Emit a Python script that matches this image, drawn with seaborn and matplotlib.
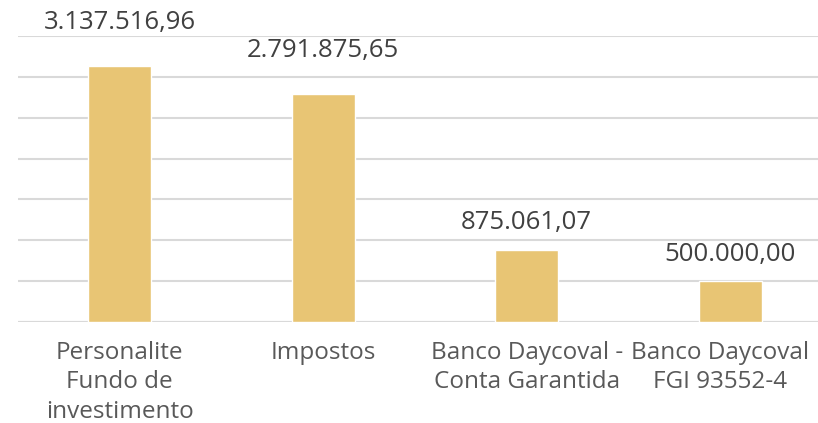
import matplotlib
matplotlib.use("Agg")
import matplotlib.pyplot as plt
import matplotlib.transforms as mtransforms
import pandas as pd
import seaborn as sns

categories = ["Personalite\nFundo de\ninvestimento", "Impostos",
              "Banco Daycoval -\nConta Garantida", "Banco Daycoval\nFGI 93552-4"]
values = [3137516.96, 2791875.65, 875061.07, 500000.00]
labels = ["3.137.516,96", "2.791.875,65", "875.061,07", "500.000,00"]

sns.set_theme(style="white")
plt.rcParams["font.family"] = ["Open Sans", "DejaVu Sans"]

df = pd.DataFrame({"cat": categories, "val": values})

fig = plt.figure(figsize=(8.18, 4.23), dpi=100)
ax = fig.add_axes([18 / 818, 1 - 322 / 423, 814 / 818, 286 / 423])
sns.barplot(data=df, x="cat", y="val", ax=ax, color="#E8C574", width=0.31,
            saturation=1)

ax.set_ylim(0, 3500000)
ax.set_yticks(range(0, 3500001, 500000))
ax.yaxis.grid(True, color="#D9D9D9", linewidth=1.5)
ax.set_axisbelow(True)
for s in ax.spines.values():
    s.set_visible(False)
ax.axhline(0, color="#D9D9D9", linewidth=1.5, zorder=0.5)
ax.set_yticklabels([])
ax.tick_params(axis="y", length=0)
ax.tick_params(axis="x", length=0, pad=14, labelsize=17.5, labelcolor="#595959")
for t in ax.get_xticklabels():
    t.set_linespacing(1.28)
# keep the last label inside the figure, like the original
last = ax.get_xticklabels()[-1]
last.set_transform(last.get_transform()
                   + mtransforms.ScaledTranslation(-7 / 72, 0, fig.dpi_scale_trans))
ax.set_xlabel("")
ax.set_ylabel("")

offsets = [31, 31, 20, 19]
for i, (v, t) in enumerate(zip(values, labels)):
    ax.annotate(t, (i, v), xytext=(0, offsets[i]), textcoords="offset points",
                ha="center", va="center", fontsize=18.5, color="#404040")

fig.savefig("out.png", dpi=100)
